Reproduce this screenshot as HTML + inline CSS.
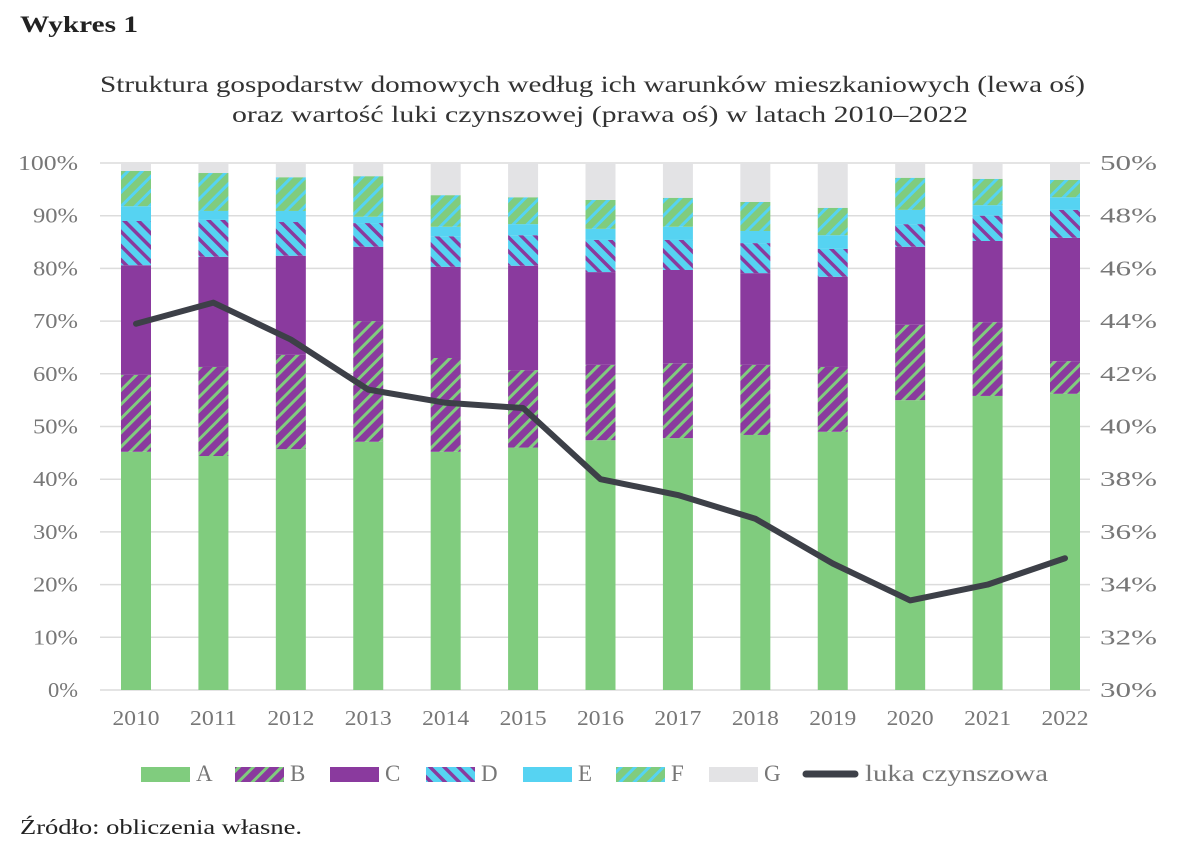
<!DOCTYPE html>
<html><head><meta charset="utf-8"><style>
body{margin:0;background:#fff;}
svg{display:block;font-family:"Liberation Serif",serif;}
</style></head><body>
<svg id="chart" width="1200" height="852" viewBox="0 0 1200 852">
<defs>
<pattern id="patB" width="10" height="10" patternUnits="userSpaceOnUse" patternTransform="rotate(45)">
<rect width="10" height="10" fill="#8a3a9e"/><rect width="3" height="10" fill="#80cc7e"/></pattern>
<pattern id="patD" width="10" height="10" patternUnits="userSpaceOnUse" patternTransform="rotate(-45)">
<rect width="10" height="10" fill="#56d3f2"/><rect width="3.5" height="10" fill="#8a3a9e"/></pattern>
<pattern id="patF" width="10" height="10" patternUnits="userSpaceOnUse" patternTransform="rotate(45)">
<rect width="10" height="10" fill="#80cc7e"/><rect width="3" height="10" fill="#56d3f2"/></pattern>
</defs>
<text x="20" y="32" font-size="23" font-weight="bold" fill="#222" textLength="118" lengthAdjust="spacingAndGlyphs">Wykres 1</text>
<text x="100" y="92" font-size="23" fill="#333" textLength="985" lengthAdjust="spacingAndGlyphs">Struktura gospodarstw domowych według ich warunków mieszkaniowych (lewa oś)</text>
<text x="232" y="122" font-size="23" fill="#333" textLength="736" lengthAdjust="spacingAndGlyphs">oraz wartość luki czynszowej (prawa oś) w latach 2010–2022</text>
<g id="grid"></g><g id="bars"></g><g id="line"></g><g id="axes"></g>
<g id="legend"></g>
<text x="20" y="834" font-size="21" fill="#222" textLength="282" lengthAdjust="spacingAndGlyphs">Źródło: obliczenia własne.</text>
</svg>
<script>
const years=[2010,2011,2012,2013,2014,2015,2016,2017,2018,2019,2020,2021,2022];
const serA=[45.2,44.4,45.7,47.1,45.2,46.0,47.4,47.8,48.4,49.0,55.0,55.8,56.2];
const serB=[14.6,16.9,17.9,22.9,17.8,14.7,14.3,14.2,13.3,12.3,14.3,14.0,6.2];
const serC=[20.8,20.9,18.8,14.1,17.3,19.8,17.6,17.7,17.4,17.1,14.8,15.4,23.4];
const serD=[8.4,7.0,6.4,4.5,5.8,5.8,6.1,5.7,5.7,5.3,4.3,4.8,5.3];
const serE=[2.8,1.7,2.1,1.2,1.8,2.1,2.1,2.5,2.3,2.6,2.7,2.0,2.4];
const serF=[6.7,7.2,6.4,7.7,6.0,5.1,5.5,5.5,5.5,5.2,6.1,5.0,3.3];
const serG=[1.5,1.9,2.7,2.5,6.1,6.5,7.0,6.6,7.4,8.5,2.8,3.0,3.2];
const luka=[43.9,44.7,43.3,41.4,40.9,40.7,38.0,37.4,36.5,34.8,33.4,34.0,35.0];
const leftTicks=[0,10,20,30,40,50,60,70,80,90,100];
const rightTicks=[30,32,34,36,38,40,42,44,46,48,50];

const NS="http://www.w3.org/2000/svg";
const y0=690,y1=163,x0=100,x1=1090;
const yL=v=>y0-(v/100)*(y0-y1);
const yR=v=>y0-((v-30)/20)*(y0-y1);
const xC=i=>136+i*(1065-136)/(years.length-1);
function mk(tag,attrs,parent){const e=document.createElementNS(NS,tag);for(const k in attrs)e.setAttribute(k,attrs[k]);parent.appendChild(e);return e;}
const grid=document.getElementById('grid'),axes=document.getElementById('axes');
leftTicks.forEach((t,i)=>{
 const l=mk('line',{x1:x0,x2:x1,y1:yL(t),y2:yL(t),stroke:'#dcdcdc','stroke-width':1.5},grid);
 
 
 const lab=t+'%';
 const w=lab.length*15;
 const tx=mk('text',{x:78-w,y:yL(t)+7,'font-size':21,fill:'#777',textLength:w,lengthAdjust:'spacingAndGlyphs'},axes);tx.textContent=lab;
 
 
});
rightTicks.forEach(t=>{
 const tx=mk('text',{x:1100,y:yR(t)+7,'font-size':21,fill:'#777',textLength:57,lengthAdjust:'spacingAndGlyphs'},axes);tx.textContent=t+'%';
 
 
});
const series=[[serA,'#80cc7e'],[serB,'url(#patB)'],[serC,'#8a3a9e'],[serD,'url(#patD)'],[serE,'#56d3f2'],[serF,'url(#patF)'],[serG,'#e3e3e5']];
const names=['A','B','C','D','E','F','G'];
const bars=document.getElementById('bars');
years.forEach((yr,i)=>{
 let cum=0;
 series.forEach(([s,fill],k)=>{
  const top=cum+s[i];
  const r=mk('rect',{x:xC(i)-15,width:30,y:yL(top),height:yL(cum)-yL(top),fill:fill},bars);
  
  
  cum=top;
 });
 const tx=mk('text',{x:xC(i)-23.5,y:725,'font-size':21,fill:'#777',textLength:47,lengthAdjust:'spacingAndGlyphs'},axes);tx.textContent=yr;
 
 
});
const p=mk('polyline',{points:luka.map((v,i)=>xC(i)+','+yR(v)).join(' '),fill:'none',stroke:'#3d4048','stroke-width':6,'stroke-linejoin':'round','stroke-linecap':'round'},document.getElementById('line'));


const lg=document.getElementById('legend');
const lx=[141,235,330,426,523,616,709];
names.forEach((n,k)=>{
 const r=mk('rect',{x:lx[k],y:767,width:49,height:15,fill:series[k][1]},lg);
 
 
 const t=mk('text',{x:lx[k]+55,y:781,'font-size':23,fill:'#777'},lg);t.textContent=n;
 
 
});
const ll=mk('line',{x1:806,x2:855,y1:774,y2:774,stroke:'#3d4048','stroke-width':7,'stroke-linecap':'round'},lg);


const lt=mk('text',{x:865,y:781,'font-size':23,fill:'#777',textLength:183,lengthAdjust:'spacingAndGlyphs'},lg);lt.textContent='luka czynszowa';


</script>
</body></html>
